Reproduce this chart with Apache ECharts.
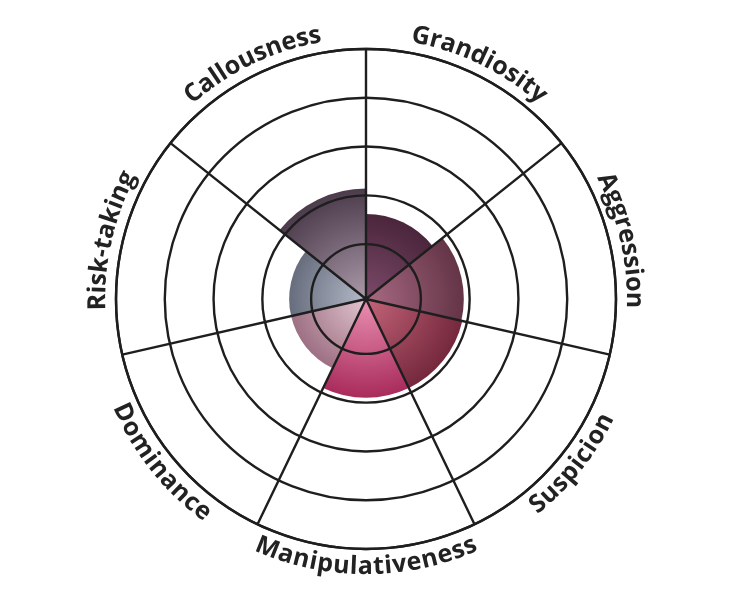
<!DOCTYPE html>
<html><head><meta charset="utf-8">
<script src="https://cdn.jsdelivr.net/npm/echarts@6/dist/echarts.min.js"></script>
<style>html,body{margin:0;padding:0;background:#fff}#c{width:732px;height:600px}</style>
</head><body><div id="c"></div>
<script>
const categories = ['Grandiosity', 'Aggression', 'Suspicion', 'Manipulativeness', 'Dominance', 'Risk-taking', 'Callousness'];
const values = [1.62, 1.88, 1.9, 1.9, 1.45, 1.45, 2.14];
const innerColors = ['#7c4a6a', '#a86a82', '#c4647a', '#ea90b2', '#e2c6d0', '#b4bac8', '#aa9aaa'];
const outerColors = ['#3a1a2c', '#5a2c3e', '#6a2034', '#a01e50', '#7e4860', '#444a5a', '#4a3a4a'];

const CX = 366, CY = 299, R = 250;
const LINE = '#1e1e1e';
const LINE_W = 2.4;
const LABEL_FONT = 'bold 25px "Open Sans"';
const LETTER_SPACING = 0.3;
const ctx = document.createElement('canvas').getContext('2d');
ctx.font = LABEL_FONT;

function renderLabel(params, api) {
  const cs = params.coordSys;
  const p = api.coord([api.value(0), api.value(1)]);
  let th = Math.atan2(p[0] - cs.cx, -(p[1] - cs.cy));
  th = ((th % (2 * Math.PI)) + 2 * Math.PI) % (2 * Math.PI);
  const rad = cs.r + 18;
  const text = categories[params.dataIndex];
  const chars = text.split('');
  const widths = chars.map(c => ctx.measureText(c).width);
  const total = widths.reduce((a, b) => a + b, 0) + LETTER_SPACING * (chars.length - 1);
  const flip = th > Math.PI / 2 && th < 3 * Math.PI / 2;
  const children = [];
  let s = 0;
  chars.forEach((c, k) => {
    const off = (s + widths[k] / 2 - total / 2) / rad;
    const a = flip ? th - off : th + off;
    children.push({
      type: 'text',
      x: cs.cx + rad * Math.sin(a),
      y: cs.cy - rad * Math.cos(a),
      rotation: flip ? -(a - Math.PI) : -a,
      style: { text: c, font: LABEL_FONT, fill: '#222', align: 'center', verticalAlign: 'middle' }
    });
    s += widths[k] + LETTER_SPACING;
  });
  return { type: 'group', children };
}

const chart = echarts.init(document.getElementById('c'));
chart.setOption({
  animation: false,
  backgroundColor: '#fff',
  polar: { center: [CX, CY], radius: [0, R] },
  angleAxis: {
    type: 'category', data: categories, startAngle: 90, clockwise: true, boundaryGap: true,
    z: 10,
    axisLine: { show: true, lineStyle: { color: LINE, width: LINE_W } },
    axisTick: { show: false }, axisLabel: { show: false },
    splitLine: { show: true, lineStyle: { color: LINE, width: LINE_W } }
  },
  radiusAxis: {
    type: 'value', min: -0.125, max: 5, startValue: -0.125,
    z: 10,
    axisLine: { show: false }, axisTick: { show: false }, axisLabel: { show: false },
    splitLine: { show: true, lineStyle: { color: ['rgba(0,0,0,0)', 'rgba(0,0,0,0)', LINE, LINE, LINE, LINE, LINE], width: LINE_W } }
  },
  series: [
    {
      type: 'bar', coordinateSystem: 'polar', barCategoryGap: '0%', z: 2,
      data: values.map((v, i) => ({
        value: v,
        itemStyle: {
          color: {
            type: 'radial', x: CX, y: CY, r: 112, global: true,
            colorStops: [{ offset: 0, color: innerColors[i] }, { offset: 1, color: outerColors[i] }]
          }
        }
      }))
    },
    {
      type: 'custom', coordinateSystem: 'polar', z: 20,
      encode: { radius: 0, angle: 1 },
      data: categories.map((c, i) => [5, i]),
      renderItem: renderLabel,
      silent: true
    }
  ]
});
</script>
</body></html>
